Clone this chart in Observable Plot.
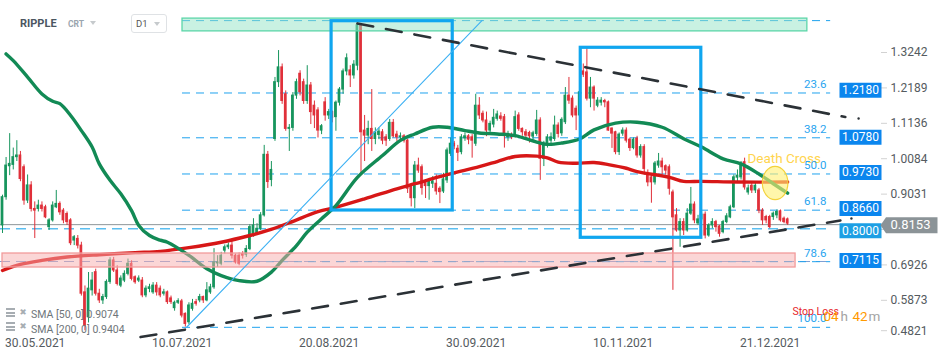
<!DOCTYPE html>
<html><head><meta charset="utf-8">
<script src="https://cdn.jsdelivr.net/npm/d3@7"></script>
<script src="https://cdn.jsdelivr.net/npm/@observablehq/plot@0.6"></script>
<style>
body{margin:0;background:#fff;font-family:Roboto,"Noto Sans",sans-serif;}
#wrap{position:relative;width:950px;height:361px;overflow:hidden;background:#fff;}
.ov{position:absolute;white-space:nowrap;line-height:1;}
.tri{position:absolute;width:0;height:0;border-left:3.5px solid transparent;border-right:3.5px solid transparent;border-top:4px solid #c6cacd;}
.bar{position:absolute;width:9px;height:2px;background:#a7adb2;}
</style></head><body><div id="wrap"></div>
<script>
// ---------- data ----------
const startDate = "2021-05-29";
const opens = [
.810,.894,.986,.990,1.013,1.018,.983,.884,.929,.859,
.859,.869,.864,.805,.825,.864,.874,.854,.844,.825,
.765,.770,.750,.611,.537,.617,.671,.607,.587,.597,
.642,.706,.676,.631,.646,.666,.696,.656,.646,.646,
.602,.621,.611,.631,.622,.607,.611,.593,.564,.580,
.584,.547,.522,.562,.582,.587,.597,.587,.611,.626,
.697,.696,.735,.745,.750,.720,.720,.725,.723,.740,
.780,.785,.800,.840,1.020,.945,1.067,1.236,1.280,1.200,
1.097,1.100,1.196,1.261,1.236,1.180,1.226,1.166,1.152,1.092,
1.176,1.137,1.147,1.132,1.175,1.214,1.268,1.271,1.256,1.285,
1.405,1.092,1.077,1.097,1.067,1.079,1.087,1.072,1.067,1.115,
1.080,1.072,1.075,1.062,.924,.891,.988,.983,.939,.927,
.934,.934,.919,.911,.944,1.023,1.053,1.038,1.028,1.069,
1.075,1.072,1.053,1.166,1.142,1.122,1.092,1.110,1.127,1.134,
1.132,1.072,1.077,1.077,1.137,1.097,1.087,1.085,1.074,1.082,
1.122,1.008,1.048,1.062,1.067,1.107,1.084,1.117,1.196,1.187,
1.157,1.137,1.268,1.265,1.187,1.220,1.166,1.175,1.180,1.176,
1.098,1.087,1.028,1.083,1.092,1.065,1.040,1.068,1.018,1.043,
.958,.953,.938,.988,1.000,.986,.983,.908,.840,.795,
.820,.795,.845,.872,.816,.828,.842,.780,.810,.820,
.807,.790,.820,.834,.864,.952,.953,.998,.908,.928,
.914,.914,.854,.835,.835,.835,.840,.852,.830,.828];
const highs = [
.900,1.012,1.083,1.040,1.062,1.030,.990,.960,.940,.880,
.885,.880,.870,.830,.880,.914,.880,.860,.850,.830,
.780,.780,.760,.630,.670,.670,.680,.620,.605,.648,
.714,.715,.690,.660,.675,.710,.705,.660,.660,.655,
.630,.635,.640,.640,.630,.620,.615,.600,.585,.592,
.590,.550,.580,.590,.590,.605,.600,.640,.635,.741,
.720,.730,.752,.758,.762,.725,.728,.732,.750,.812,
.830,.815,.848,1.048,1.030,1.000,1.250,1.330,1.290,1.210,
1.110,1.205,1.245,1.270,1.245,1.285,1.235,1.180,1.160,1.110,
1.190,1.155,1.150,1.180,1.220,1.275,1.320,1.285,1.300,1.415,
1.410,1.137,1.120,1.214,1.100,1.100,1.095,1.080,1.125,1.125,
1.090,1.085,1.080,1.066,.930,1.000,1.010,.990,.945,.950,
.955,.960,.925,.965,1.040,1.070,1.060,1.048,1.080,1.085,
1.080,1.080,1.200,1.190,1.150,1.147,1.120,1.155,1.150,1.145,
1.140,1.090,1.085,1.150,1.145,1.100,1.095,1.090,1.090,1.152,
1.130,1.060,1.080,1.085,1.135,1.115,1.130,1.220,1.250,1.195,
1.165,1.230,1.290,1.336,1.250,1.225,1.190,1.190,1.185,1.180,
1.100,1.090,1.085,1.100,1.100,1.070,1.070,1.075,1.050,1.050,
.975,.960,1.000,1.024,1.010,.990,.990,.915,.860,.830,
.830,.860,.923,.880,.840,.850,.850,.815,.830,.825,
.810,.825,.845,.870,.960,.975,1.000,1.010,.930,.935,
.935,.920,.860,.840,.840,.850,.856,.856,.835,.832];
const lows = [
.786,.885,.958,.975,1.000,.940,.870,.875,.850,.771,
.850,.850,.830,.795,.820,.860,.840,.815,.810,.750,
.750,.740,.600,.497,.520,.600,.600,.578,.575,.590,
.635,.670,.630,.625,.640,.660,.645,.635,.640,.595,
.595,.610,.605,.600,.595,.600,.575,.575,.555,.575,
.535,.508,.515,.555,.570,.580,.578,.583,.605,.620,
.685,.690,.725,.738,.710,.695,.690,.710,.715,.735,
.775,.780,.795,.835,.920,.925,1.060,1.220,1.170,1.090,
1.030,1.090,1.185,1.195,1.170,1.170,1.110,1.098,1.070,1.080,
1.120,1.125,1.115,1.090,1.165,1.200,1.255,1.220,1.245,1.270,
.965,1.000,1.050,1.030,1.050,1.065,1.050,1.045,1.060,1.070,
1.060,1.065,1.055,.905,.865,.860,.965,.900,.890,.885,
.920,.900,.875,.905,.935,1.015,1.035,1.000,1.020,1.060,
1.050,1.010,1.045,1.125,1.115,1.074,1.080,1.100,1.120,1.120,
1.040,1.060,1.065,1.070,1.090,1.075,1.065,1.055,1.065,1.075,
.944,.985,1.040,1.050,1.060,1.070,1.075,1.110,1.170,1.130,
1.092,1.130,1.250,1.180,1.160,1.150,1.160,1.165,1.160,1.090,
1.039,1.020,1.018,1.075,1.055,1.030,1.035,1.010,1.010,.960,
.925,.876,.930,.980,.960,.960,.900,.617,.790,.745,
.780,.790,.840,.815,.810,.820,.770,.775,.800,.790,
.775,.785,.815,.830,.860,.940,.945,.915,.900,.905,
.905,.845,.810,.815,.800,.825,.830,.820,.815,.810];
const closes = [
.894,.988,.993,1.013,1.018,.948,.884,.929,.859,.854,
.869,.859,.834,.825,.869,.874,.849,.825,.820,.757,
.775,.750,.607,.512,.622,.646,.607,.587,.597,.642,
.706,.676,.636,.652,.666,.696,.651,.641,.652,.602,
.622,.626,.631,.611,.602,.611,.582,.582,.580,.585,
.542,.517,.572,.577,.577,.597,.587,.617,.626,.700,
.700,.720,.745,.750,.720,.700,.696,.720,.740,.805,
.810,.800,.840,1.020,.939,.975,1.236,1.280,1.180,1.097,
1.100,1.196,1.236,1.206,1.180,1.226,1.147,1.137,1.092,1.105,
1.137,1.147,1.130,1.175,1.214,1.268,1.307,1.256,1.288,1.405,
1.087,1.077,1.097,1.067,1.087,1.089,1.062,1.062,1.115,1.075,
1.072,1.075,1.062,.919,.891,.988,.973,.921,.927,.940,
.941,.911,.909,.947,1.033,1.053,1.045,1.026,1.072,1.075,
1.065,1.062,1.166,1.137,1.122,1.092,1.112,1.130,1.140,1.127,
1.077,1.082,1.072,1.132,1.097,1.087,1.077,1.075,1.084,1.122,
1.008,1.048,1.072,1.072,1.107,1.082,1.124,1.196,1.181,1.137,
1.137,1.206,1.258,1.187,1.220,1.187,1.181,1.181,1.176,1.092,
1.083,1.028,1.080,1.092,1.062,1.040,1.065,1.018,1.043,.978,
.938,.938,.994,1.000,.983,.973,.919,.834,.795,.820,
.795,.845,.872,.825,.828,.842,.780,.810,.820,.805,
.785,.820,.837,.864,.953,.958,.993,.923,.920,.914,
.928,.854,.825,.825,.805,.845,.850,.825,.820,.8153];

const sma50Dates = ["2021-05-30","2021-06-01","2021-06-05","2021-06-09","2021-06-12","2021-06-14","2021-06-17","2021-06-20","2021-06-23","2021-06-25","2021-06-28","2021-07-01","2021-07-04","2021-07-06","2021-07-09","2021-07-12","2021-07-14","2021-07-20","2021-07-25","2021-07-29","2021-08-03","2021-08-08","2021-08-12","2021-08-15","2021-08-19","2021-08-22","2021-08-26","2021-08-30","2021-09-05","2021-09-12","2021-09-17","2021-09-21","2021-09-26","2021-09-30","2021-10-05","2021-10-09","2021-10-14","2021-10-19","2021-10-25","2021-10-28","2021-11-01","2021-11-06","2021-11-10","2021-11-16","2021-11-22","2021-11-29","2021-12-05","2021-12-10","2021-12-16","2021-12-21","2021-12-26","2021-12-30","2022-01-03"];
const sma50Values = [1.320,1.300,1.251,1.201,1.179,1.172,1.137,1.092,1.043,0.993,0.944,0.904,0.854,0.810,0.780,0.766,0.760,0.721,0.681,0.661,0.646,0.644,0.671,0.706,0.750,0.790,0.830,0.869,0.953,1.018,1.063,1.082,1.102,1.102,1.092,1.085,1.082,1.077,1.058,1.051,1.055,1.067,1.094,1.114,1.117,1.102,1.068,1.043,1.008,0.993,0.963,0.934,0.906];
const sma200Dates = ["2021-05-29","2021-06-03","2021-06-09","2021-06-16","2021-06-25","2021-07-05","2021-07-12","2021-07-20","2021-07-29","2021-08-06","2021-08-11","2021-08-17","2021-08-25","2021-08-30","2021-09-07","2021-09-16","2021-09-21","2021-09-30","2021-10-09","2021-10-14","2021-10-19","2021-10-25","2021-10-28","2021-10-31","2021-11-05","2021-11-10","2021-11-14","2021-11-19","2021-11-22","2021-12-01","2021-12-05","2021-12-10","2021-12-20","2022-01-03"];
const sma200Values = [0.676,0.694,0.706,0.716,0.723,0.729,0.733,0.744,0.760,0.780,0.795,0.818,0.851,0.864,0.889,0.919,0.934,0.961,0.985,1.000,1.015,1.016,1.011,0.998,0.995,0.997,0.991,0.980,0.970,0.953,0.941,0.941,0.939,0.939];

const dateTicks = ["2021-05-30","2021-07-10","2021-08-20","2021-09-30","2021-11-10","2021-12-21"];
const priceTicks = [1.3242,1.2189,1.1136,1.0084,0.9031,0.7979,0.6926,0.5873];
const lowestTick = [0.4821];
const lastPrice = 0.8153;

const fibPrices = [1.419,1.2038,1.0706,0.963,0.8554,0.7022,0.507];
const fibLabels = ["","23.6","38.2","50.0","61.8","78.6","100.0"];
const fibFrom = "2021-07-18T05:00Z", fibTo = "2022-01-15T00:00Z";
const levelBoxes = ["1.2180","1.0780","0.9730","0.8660","0.8000","0.7115"];
const wideLines = [0.8000, 0.7027];

const zones = [
  {from:"2021-07-18T05:00Z", to:"2022-01-08T12:00Z", top:1.425, bottom:1.387, kind:"resistance"},
  {from:"2021-05-29T00:00Z", to:"2022-01-05T05:00Z", top:0.7265, bottom:0.6849, kind:"support"}
];
const frames = [
  {from:"2021-08-28T19:00Z", to:"2021-10-01T14:00Z", top:1.4173, bottom:0.8544},
  {from:"2021-11-06T07:00Z", to:"2021-12-09T22:00Z", top:1.3382, bottom:0.7732}
];
const upperTrend = [{t:"2021-09-05T00:00Z", v:1.4104},{t:"2022-01-19T02:00Z", v:1.1324}];
const lowerTrend = [{t:"2021-07-06T12:00Z", v:0.478},{t:"2022-01-17T17:00Z", v:0.8247}];
const trendEnds = [{t:"2022-01-22T19:00Z", v:1.128},{t:"2022-01-20T19:00Z", v:0.8307}];
const blueRay = [{t:"2021-07-19T07:00Z", v:0.5065},{t:"2021-10-09T19:00Z", v:1.4194}];
const deathCross = {t:"2021-12-30T12:00Z", v:0.9362, label:"Death Cross", labelT:"2021-12-22T19:00Z", labelV:0.9971};
const stopLoss = {text:"Stop Loss", v:0.5422};
const timerParts = ["04", "h", "42", "m"];
const timerColors = ["#ff9a00", "#a3a3a3", "#ff9a00", "#a3a3a3"];
const timerOffsets = [-57, -40, -28, -12];
const timerV = 0.5273;

// ---------- build ----------
const DAY = 864e5;
const t0 = Date.parse(startDate + "T00:00:00Z");
const candles = closes.map((c, i) => ({date: new Date(t0 + i * DAY), o: opens[i], h: highs[i], l: lows[i], c}));
const GREEN = "#17955d", RED = "#e0303a";
const col = d => d.c >= d.o ? GREEN : RED;
const D = s => new Date(s);
const sma50 = sma50Dates.map((d, i) => ({t: D(d), v: sma50Values[i]}));
const sma200 = sma200Dates.map((d, i) => ({t: D(d), v: sma200Values[i]}));
const fibRows = fibPrices.map((v, i) => ({v, label: fibLabels[i]}));
const boxRows = levelBoxes.map(s => ({v: +s, label: s, color: s === "0.8000" ? "#1d9fe4" : "#0b86ee"}));
const fmtDate = d3.utcFormat("%d.%m.%Y");

const ellipse = {draw(ctx) {const rx = 12.8, ry = 16.7, k = 0.5523;
  ctx.moveTo(rx, 0); ctx.bezierCurveTo(rx, ry*k, rx*k, ry, 0, ry); ctx.bezierCurveTo(-rx*k, ry, -rx, ry*k, -rx, 0);
  ctx.bezierCurveTo(-rx, -ry*k, -rx*k, -ry, 0, -ry); ctx.bezierCurveTo(rx*k, -ry, rx, -ry*k, rx, 0); ctx.closePath();}};
const boxShape = {draw(ctx) {ctx.moveTo(-21, -7.5); ctx.lineTo(21, -7.5); ctx.lineTo(21, 7.5); ctx.lineTo(-21, 7.5); ctx.closePath();}};
const tagShape = {draw(ctx) {ctx.moveTo(-28.5, 0); ctx.lineTo(-23, -8); ctx.lineTo(28.5, -8); ctx.lineTo(28.5, 8); ctx.lineTo(-23, 8); ctx.closePath();}};

const timerMarks = timerParts.map((s, i) => Plot.text([s], {y: () => timerV, text: d => d, frameAnchor: "right", dx: timerOffsets[i], textAnchor: "start", lineAnchor: "bottom", fill: timerColors[i], fontSize: 13.5}));

const chart = Plot.plot({
  width: 950, height: 361, marginTop: 0, marginBottom: 23, marginLeft: 0, marginRight: 70,
  style: {fontFamily: "Roboto, sans-serif", fontSize: "12px", background: "#fff", overflow: "visible"},
  x: {type: "utc", domain: [D("2021-05-28T10:36:00Z"), D("2022-01-28T21:36:00Z")], axis: null},
  y: {type: "linear", domain: [0.47378, 1.47882]},
  marks: [
    Plot.ruleY(wideLines, {y: d => d, x1: () => D("2021-05-28T10:36:00Z"), x2: () => D(fibTo), stroke: (d, i) => i === 0 ? "#5bbef0" : "#7e9fd4", strokeWidth: (d, i) => i === 0 ? 1.6 : 1.2, strokeDasharray: "10,6"}),
    Plot.ruleY([lastPrice], {y: d => d, stroke: "#8d9599", strokeWidth: 1, dy: 1}),
    Plot.ruleY(fibRows, {y: "v", x1: () => D(fibFrom), x2: () => D(fibTo), stroke: "#1fa2ee", strokeWidth: 1, strokeDasharray: "8,6"}),
    Plot.ruleX(candles, {x: "date", y1: "l", y2: "h", stroke: col, strokeWidth: 1}),
    Plot.rect(candles, {x1: d => new Date(+d.date - 0.38 * DAY), x2: d => new Date(+d.date + 0.38 * DAY), y1: "o", y2: "c", fill: col, insetTop: -0.5, insetBottom: -0.5}),
    Plot.line(sma200, {x: "t", y: "v", stroke: "#d71717", strokeWidth: 3.4, curve: "catmull-rom"}),
    Plot.line(sma50, {x: "t", y: "v", stroke: "#128a55", strokeWidth: 3.4, curve: "catmull-rom"}),
    Plot.rect(zones, {x1: d => D(d.from), x2: d => D(d.to), y1: "bottom", y2: "top",
      fill: d => d.kind === "support" ? "#f7adad" : "#94e4c5", fillOpacity: 0.5,
      stroke: d => d.kind === "support" ? "#f29b9b" : "#5cd6a9", strokeWidth: 1.3}),
    Plot.rect(frames, {x1: d => D(d.from), x2: d => D(d.to), y1: "bottom", y2: "top", fill: "none", stroke: "#10a6ef", strokeWidth: 3.2}),
    Plot.line(blueRay, {x: d => D(d.t), y: "v", stroke: "#3db1f3", strokeWidth: 1.1}),
    Plot.line(upperTrend, {x: d => D(d.t), y: "v", stroke: "#2b3136", strokeWidth: 2.6, strokeDasharray: "16,13"}),
    Plot.line(lowerTrend, {x: d => D(d.t), y: "v", stroke: "#2b3136", strokeWidth: 2.6, strokeDasharray: "16,13"}),
    Plot.dot(trendEnds, {x: d => D(d.t), y: "v", r: 1.2, fill: "#2b3136"}),
    Plot.dot([deathCross], {x: d => D(d.t), y: "v", symbol: ellipse, fill: "#fff176", fillOpacity: 0.62, stroke: "#f3d23c", strokeWidth: 1.2}),
    Plot.text([deathCross], {x: d => D(d.labelT), y: "labelV", text: "label", textAnchor: "start", lineAnchor: "bottom", fill: "#ffd54f", fontSize: 13.5}),
    Plot.text(fibRows.filter(d => d.label), {y: "v", text: "label", frameAnchor: "right", dx: -54, dy: -5, textAnchor: "end", lineAnchor: "bottom", fill: "#2aa5ef", fontSize: 11.5}),
    Plot.text([stopLoss], {y: "v", text: "text", frameAnchor: "right", dx: -88, textAnchor: "start", lineAnchor: "bottom", fill: "#e6262b", fontSize: 10.5}),
    ...timerMarks,
    Plot.axisY({anchor: "right", ticks: priceTicks, tickFormat: d => d.toFixed(4), tickSize: 6, tickPadding: 4, fontSize: 12, stroke: "#d2d2d2", fill: "#555b60", label: null}),
    Plot.axisY({anchor: "right", ticks: lowestTick, tickFormat: d => d.toFixed(4), tickSize: 6, tickPadding: 4, fontSize: 12, stroke: "#d2d2d2", fill: "#555b60", label: null, dy: -5}),
    Plot.dot(boxRows, {y: "v", frameAnchor: "right", dx: -20, dy: 2, symbol: boxShape, fill: "color", stroke: null}),
    Plot.text(boxRows, {y: "v", text: "label", frameAnchor: "right", dx: -20, dy: 2, textAnchor: "middle", fill: "#fff", fontSize: 12}),
    Plot.dot([lastPrice], {y: d => d, frameAnchor: "right", dx: 28.5, dy: 1.5, symbol: tagShape, fill: "#8b9397", stroke: null}),
    Plot.text([lastPrice], {y: d => d, text: d => d.toFixed(4), frameAnchor: "right", dx: 30, dy: 1.5, textAnchor: "middle", fill: "#fff", fontSize: 13}),
    Plot.text(dateTicks, {x: d => D(d), text: d => fmtDate(D(d)), frameAnchor: "bottom", lineAnchor: "top", textAnchor: "start", dx: -1, fill: "#555b60", fontSize: 12})
  ]
});

const wrap = document.getElementById("wrap");
wrap.appendChild(chart);
const overlay = `
<div class="ov" style="left:20px;top:18px;font-weight:bold;font-size:11px;color:#4b5661;">RIPPLE</div>
<div class="ov" style="left:68px;top:20px;font-weight:bold;font-size:8.5px;color:#9aa5ae;">CRT</div>
<div class="tri" style="left:90px;top:20.5px;"></div>
<div class="ov" style="left:130.5px;top:14px;width:34px;height:17px;border:1px solid #dfe2e5;border-radius:3px;"></div>
<div class="ov" style="left:136px;top:19.3px;font-size:9.5px;color:#555;">D1</div>
<div class="tri" style="left:154px;top:21.5px;"></div>
<div class="bar" style="left:6px;top:308px;"></div><div class="bar" style="left:6px;top:311.5px;"></div><div class="bar" style="left:6px;top:315px;"></div>
<div class="ov" style="left:19.5px;top:308px;font-family:'DejaVu Sans';font-size:8.5px;color:#a7adb2;">✖</div>
<div class="ov" style="left:31px;top:309.5px;font-size:10.5px;color:#6e757a;">SMA [50, 0] 0.9074</div>
<div class="bar" style="left:6px;top:322px;"></div><div class="bar" style="left:6px;top:325.5px;"></div><div class="bar" style="left:6px;top:329px;"></div>
<div class="ov" style="left:19.5px;top:322px;font-family:'DejaVu Sans';font-size:8.5px;color:#a7adb2;">✖</div>
<div class="ov" style="left:31px;top:324.5px;font-size:10.5px;color:#6e757a;">SMA [200, 0] 0.9404</div>`;
wrap.insertAdjacentHTML("beforeend", overlay);
</script></body></html>
